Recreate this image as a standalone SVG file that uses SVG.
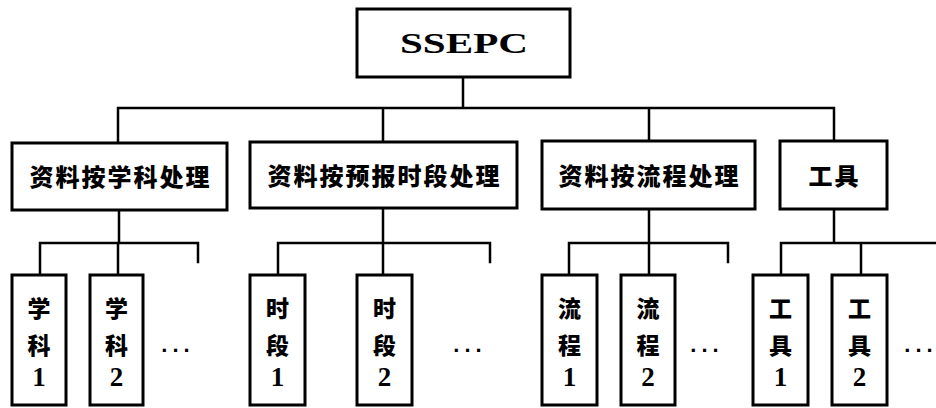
<svg xmlns="http://www.w3.org/2000/svg" width="936" height="408" viewBox="0 0 936 408">
<style>
.box{fill:#fff;stroke:#000;stroke-width:3}
.ln{fill:none;stroke:#000;stroke-width:2.5;stroke-linecap:square}
.cn{font-family:"Noto Sans CJK SC","Noto Sans CJK TC",sans-serif;font-weight:900;font-size:23px;fill:#000;text-anchor:middle}
.l2{font-size:24px;letter-spacing:2px}
.num{font-family:"Liberation Serif",serif;font-weight:700;font-size:27px;fill:#000;text-anchor:middle}
.dots{font-family:"Liberation Sans",sans-serif;font-weight:700;font-size:22px;fill:#000;text-anchor:middle;letter-spacing:5px}
</style>
<rect width="936" height="408" fill="#fff"/>
<g id="connectors">
<path class="ln" d="M463,77V108M118,108H834M118,108V143M383,108V142M649,108V141M834,108V141"/>
<path class="ln" d="M119,210V243M40,243H198V262M40,243V275M118,243V275"/>
<path class="ln" d="M383,208V243M278,243H490V262M278,243V275M383,243V275"/>
<path class="ln" d="M649,209V243M569,243H728V262M569,243V275M649,243V275"/>
<path class="ln" d="M834,209V243M781,243H936M781,243V275M861,243V275"/>
</g>
<g id="ssepc">
<rect class="box" x="357" y="9" width="213" height="68"/>
<text x="464" y="53" font-family="Liberation Serif,serif" font-weight="700" font-size="29" text-anchor="middle" textLength="128" lengthAdjust="spacingAndGlyphs">SSEPC</text>
</g>
<g id="n-subject">
<rect class="box" x="12" y="143" width="215" height="67"/>
<text class="cn l2" x="120.5" y="186">资料按学科处理</text>
</g>
<g id="n-period">
<rect class="box" x="250" y="142" width="267" height="66"/>
<text class="cn l2" x="384.5" y="185">资料按预报时段处理</text>
</g>
<g id="n-flow">
<rect class="box" x="542" y="141" width="213" height="68"/>
<text class="cn l2" x="649.5" y="185">资料按流程处理</text>
</g>
<g id="n-tool">
<rect class="box" x="780" y="141" width="107" height="68"/>
<text class="cn l2" x="834.5" y="185">工具</text>
</g>
<g id="n-subject1">
<rect class="box" x="12" y="275" width="54" height="130"/>
<text class="cn" x="39" y="317">学</text><text class="cn" x="39" y="354">科</text><text class="num" x="39" y="386">1</text>
</g>
<g id="n-subject2">
<rect class="box" x="90" y="275" width="53" height="130"/>
<text class="cn" x="116.5" y="317">学</text><text class="cn" x="116.5" y="354">科</text><text class="num" x="116.5" y="386">2</text>
</g>
<text class="dots" x="178" y="352">...</text>
<g id="n-period1">
<rect class="box" x="250" y="275" width="55" height="130"/>
<text class="cn" x="277.5" y="317">时</text><text class="cn" x="277.5" y="354">段</text><text class="num" x="277.5" y="386">1</text>
</g>
<g id="n-period2">
<rect class="box" x="357" y="275" width="55" height="130"/>
<text class="cn" x="384.5" y="317">时</text><text class="cn" x="384.5" y="354">段</text><text class="num" x="384.5" y="386">2</text>
</g>
<text class="dots" x="470" y="352">...</text>
<g id="n-flow1">
<rect class="box" x="542" y="275" width="55" height="130"/>
<text class="cn" x="569.5" y="317">流</text><text class="cn" x="569.5" y="354">程</text><text class="num" x="569.5" y="386">1</text>
</g>
<g id="n-flow2">
<rect class="box" x="621" y="275" width="54" height="130"/>
<text class="cn" x="648" y="317">流</text><text class="cn" x="648" y="354">程</text><text class="num" x="648" y="386">2</text>
</g>
<text class="dots" x="707" y="352">...</text>
<g id="n-tool1">
<rect class="box" x="753" y="275" width="55" height="130"/>
<text class="cn" x="780.5" y="317">工</text><text class="cn" x="780.5" y="354">具</text><text class="num" x="780.5" y="386">1</text>
</g>
<g id="n-tool2">
<rect class="box" x="832" y="275" width="55" height="130"/>
<text class="cn" x="859.5" y="317">工</text><text class="cn" x="859.5" y="354">具</text><text class="num" x="859.5" y="386">2</text>
</g>
<text class="dots" x="921" y="352">...</text>
</svg>
